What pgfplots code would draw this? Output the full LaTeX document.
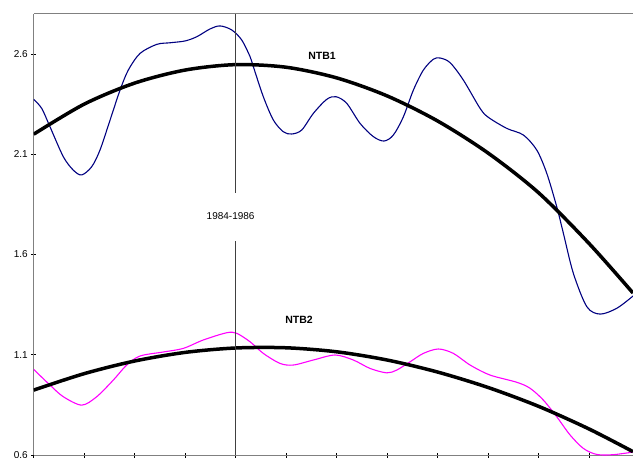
\documentclass[border=0pt]{standalone}
\usepackage{fontspec}
\setmainfont{Liberation Sans}
\usepackage{pgfplots}
\pgfplotsset{compat=1.18}

\definecolor{ntbblue}{RGB}{0,0,128}
\definecolor{ntbpink}{RGB}{255,0,255}
\definecolor{axisgray}{RGB}{128,128,128}

\begin{document}
\begin{tikzpicture}
\begin{axis}[
  scale only axis,
  width=599.2pt, height=441.1pt,
  xmin=0, xmax=11.87,
  ymin=0.6, ymax=2.8,
  axis lines*=left,
  axis line style={axisgray, line width=1pt},
  xtick={0,1,...,11}, xticklabels={},
  ytick={0.6,1.1,1.6,2.1,2.6},
  tick align=center,
  major tick length=5pt,
  tick style={black, line width=0.8pt},
  /pgf/number format/assume math mode=true,
  yticklabel style={/pgf/number format/.cd, fixed, fixed zerofill, precision=1},
  tick label style={font=\fontsize{10}{12}\selectfont},
  clip=true,
]
% outer frame: top edge
\draw[axisgray, line width=1pt] (rel axis cs:0,1) -- (rel axis cs:1,1);
\coordinate (bl) at (rel axis cs:0,0);
\coordinate (tr) at (rel axis cs:1,1);

% NTB1 series
\addplot[ntbblue, line width=1.1pt, smooth, tension=0.5] coordinates {
(0,2.374) (0.158,2.329) (0.323,2.237) (0.586,2.088) (0.784,2.021) (0.951,1.997)
(1.149,2.038) (1.313,2.121) (1.513,2.271) (1.710,2.420) (1.874,2.520) (2.106,2.603)
(2.437,2.648) (2.700,2.656) (2.997,2.665) (3.229,2.686) (3.493,2.725) (3.691,2.740)
(3.922,2.720) (4.120,2.670) (4.285,2.587) (4.350,2.537) (4.548,2.387) (4.746,2.271)
(4.945,2.212) (5.111,2.201) (5.309,2.221) (5.539,2.304) (5.804,2.374) (5.989,2.387)
(6.200,2.354) (6.464,2.254) (6.727,2.188) (6.939,2.166) (7.124,2.196) (7.322,2.287)
(7.520,2.420) (7.718,2.520) (7.916,2.574) (8.049,2.580) (8.247,2.557) (8.510,2.470)
(8.841,2.329) (9.006,2.284) (9.370,2.229) (9.699,2.196) (9.964,2.121) (10.162,2.005)
(10.360,1.838) (10.491,1.706) (10.689,1.506) (10.955,1.340) (11.218,1.303)
(11.549,1.332) (11.870,1.393)
};

% NTB1 trend
\addplot[black, line width=3.5pt, smooth] coordinates {
(0,2.200) (1,2.350) (2,2.455) (3,2.520) (4,2.547) (5,2.534) (6,2.481)
(7,2.391) (8,2.266) (9,2.106) (10,1.908) (11,1.655) (11.87,1.408)
};

% NTB2 series
\addplot[ntbpink, line width=1.1pt, smooth, tension=0.5] coordinates {
(0,1.027) (0.323,0.949) (0.586,0.891) (0.951,0.849) (1.248,0.891) (1.577,0.974)
(1.842,1.049) (2.106,1.094) (2.567,1.114) (2.964,1.132) (3.360,1.174) (3.823,1.210)
(4.021,1.207) (4.285,1.165) (4.548,1.107) (4.879,1.057) (5.143,1.049) (5.539,1.074)
(5.969,1.099) (6.331,1.074) (6.662,1.032) (6.993,1.010) (7.191,1.024) (7.454,1.065)
(7.718,1.107) (8.015,1.129) (8.312,1.107) (8.643,1.049) (9.039,0.999) (9.568,0.963)
(9.832,0.933) (10.095,0.874) (10.360,0.791) (10.624,0.700) (10.888,0.633)
(11.153,0.603) (11.482,0.602) (11.870,0.615)
};

% NTB2 trend
\addplot[black, line width=3.5pt, smooth] coordinates {
(0,0.924) (1,1.006) (2,1.069) (3,1.112) (4,1.134) (5,1.135) (6,1.115)
(7,1.074) (8,1.014) (9,0.937) (10,0.843) (11,0.730) (11.87,0.617)
};

% period marker
\draw[black!75, line width=0.9pt] (axis cs:4,2.8) -- (axis cs:4,1.907);
\draw[black!75, line width=0.9pt] (axis cs:4,1.667) -- (axis cs:4,0.6);
\node[font=\fontsize{10}{12}\selectfont] at (axis cs:3.90,1.792) {1984-1986};

\node[font=\bfseries\fontsize{10.5}{12}\selectfont] at (axis cs:5.711,2.590) {NTB1};
\node[font=\bfseries\fontsize{10.5}{12}\selectfont] at (axis cs:5.256,1.276) {NTB2};
\end{axis}
\pgfresetboundingbox
\path[use as bounding box] ([xshift=-33.7pt,yshift=-2pt]bl) rectangle ([yshift=13.9pt]tr);
\end{tikzpicture}
\end{document}
